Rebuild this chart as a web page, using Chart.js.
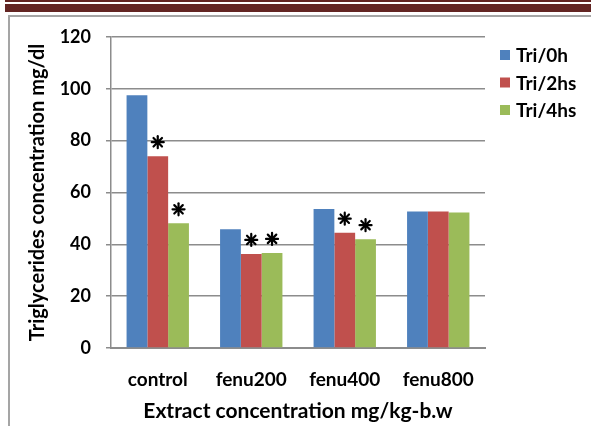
<!DOCTYPE html>
<html>
<head>
<meta charset="utf-8">
<script src="https://cdn.jsdelivr.net/npm/chart.js@4.4.1/dist/chart.umd.min.js"></script>
<style>
  html, body { margin: 0; padding: 0; background: #fff; }
  #page { position: relative; width: 591px; height: 426px; overflow: hidden; }
  .rule { position: absolute; left: 5px; right: 0; background: #632523; }
  #frame { position: absolute; left: 8px; top: 15px; width: 700px; height: 500px;
           border-left: 2px solid #a5a5a5; border-top: 2px solid #a5a5a5; }
  canvas { position: absolute; left: 0; top: 0; }
</style>
</head>
<body>
<div id="page">
  <div class="rule" style="top:0;height:2px"></div>
  <div class="rule" style="top:4px;height:8px"></div>
  <div id="frame"></div>
  <canvas id="chart" width="591" height="426"></canvas>
</div>
<script>
const CATEGORIES = ["control", "fenu200", "fenu400", "fenu800"];
const SERIES_NAMES = ["Tri/0h", "Tri/2hs", "Tri/4hs"];
const TRI_0H = [97.5, 45.8, 53.6, 52.7];
const TRI_2H = [74.0, 36.3, 44.5, 52.7];
const TRI_4H = [48.1, 36.7, 42.0, 52.3];
// bars marked with an asterisk
const SIG_0H = [false, false, false, false];
const SIG_2H = [true, true, true, false];
const SIG_4H = [true, true, true, false];
const Y_TICKS = [0, 20, 40, 60, 80, 100, 120];

const COLORS = ["#4f81bd", "#c0504d", "#9bbb59"];
const FONT = "Lato, 'Liberation Sans', sans-serif";

const starPlugin = {
  id: "stars",
  afterDatasetsDraw(chart) {
    const ctx = chart.ctx;
    const sigs = [SIG_0H, SIG_2H, SIG_4H];
    chart.data.datasets.forEach((ds, i) => {
      const meta = chart.getDatasetMeta(i);
      meta.data.forEach((bar, j) => {
        if (!sigs[i][j]) return;
        const cx = bar.x, cy = bar.y - 14, r = 6;
        ctx.save();
        ctx.strokeStyle = "#000";
        ctx.lineWidth = 2.2;
        ctx.lineCap = "round";
        for (let k = 0; k < 4; k++) {
          const a = k * Math.PI / 4;
          ctx.beginPath();
          ctx.moveTo(cx - r * Math.cos(a), cy - r * Math.sin(a));
          ctx.lineTo(cx + r * Math.cos(a), cy + r * Math.sin(a));
          ctx.stroke();
        }
        ctx.beginPath();
        ctx.arc(cx, cy, 2.5, 0, Math.PI * 2);
        ctx.fillStyle = "#000";
        ctx.fill();
        ctx.restore();
      });
    });
  }
};

const legendPlugin = {
  id: "sideLegend",
  afterDraw(chart) {
    const ctx = chart.ctx;
    ctx.save();
    ctx.font = "bold 19px " + FONT;
    ctx.textBaseline = "middle";
    ctx.textAlign = "left";
    SERIES_NAMES.forEach((name, i) => {
      const y = 55 + i * 27.5;
      ctx.fillStyle = COLORS[i];
      ctx.fillRect(500, y - 5, 10, 10);
      ctx.fillStyle = "#000";
      ctx.fillText(name, 516, y + 1);
    });
    ctx.restore();
  }
};

new Chart(document.getElementById("chart"), {
  type: "bar",
  data: {
    labels: CATEGORIES,
    datasets: [TRI_0H, TRI_2H, TRI_4H].map((vals, i) => ({
      label: SERIES_NAMES[i],
      data: vals,
      backgroundColor: COLORS[i],
      borderWidth: 0,
      categoryPercentage: 0.667,
      barPercentage: 1.0
    }))
  },
  options: {
    responsive: false,
    animation: false,
    layout: { padding: { left: 0, right: 106, top: 37, bottom: 0 } },
    plugins: { legend: { display: false }, tooltip: { enabled: false } },
    scales: {
      x: {
        grid: { display: false, drawTicks: false },
        border: { display: true, color: "#8c8c8c", width: 2 },
        ticks: { color: "#000", padding: 20, font: { family: FONT, size: 19, weight: "bold" } },
        title: {
          display: true, text: "Extract concentration mg/kg-b.w", color: "#000",
          font: { family: FONT, size: 21, weight: "bold" }, padding: { top: 0, bottom: 2 }
        },
        afterFit(scale) { scale.height = 78; }
      },
      y: {
        min: 0, max: 120,
        afterBuildTicks(scale) { scale.ticks = Y_TICKS.map(v => ({ value: v })); },
        grid: { color: "#8c8c8c", lineWidth: 1.5, tickLength: 5, drawTicks: true },
        border: { display: true, color: "#8c8c8c", width: 1.5 },
        ticks: { color: "#000", padding: 15, font: { family: FONT, size: 18, weight: "bold" } },
        title: {
          display: true, text: "Triglycerides concentration mg/dl", color: "#000",
          font: { family: FONT, size: 20, weight: "bold" }, padding: { top: 26, bottom: 0 }
        },
        afterFit(scale) { scale.width = 111; }
      }
    }
  },
  plugins: [starPlugin, legendPlugin]
});
</script>
</body>
</html>
